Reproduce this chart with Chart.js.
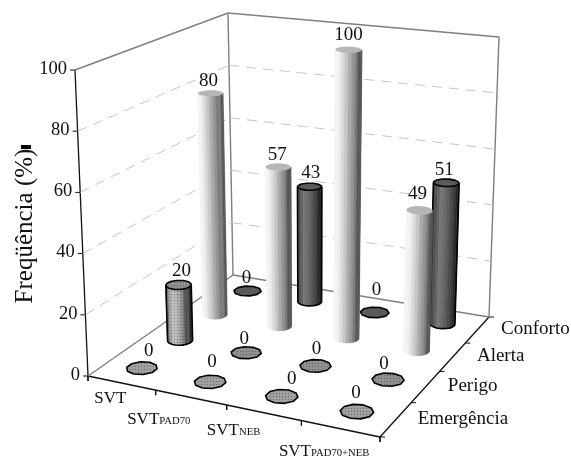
<!DOCTYPE html>
<html>
<head>
<meta charset="utf-8">
<script src="https://cdn.jsdelivr.net/npm/chart.js@4/dist/chart.umd.min.js"></script>
<style>
  html, body { margin: 0; padding: 0; background: #fff; }
  canvas { display: block; }
</style>
</head>
<body>
<canvas id="chart" width="571" height="457"></canvas>
<script>
// ─── Data ───────────────────────────────────────────────────────────────
const categories = ["SVT", "SVT", "SVT", "SVT"];
const categorySubs = ["", "PAD70", "NEB", "PAD70+NEB"];
const rows = ["Emergência", "Perigo", "Alerta", "Conforto"];
const emergencia = [0, 0, 0, 0];
const perigo = [20, 0, 0, 0];
const alerta = [80, 57, 100, 49];
const conforto = [0, 43, 0, 51];
const yTicks = [0, 20, 40, 60, 80, 100];
const yTitle = "Freqüência (%)";

// ─── 3D box as seen in the picture (floor corners, upright edge at each) ─
const floorQuad = [[88, 376], [380, 437], [489, 317], [233, 275]];
const upright = [[-13, -306], [6, -318], [10, -280], [-5, -262]];
const SERIF = "'Liberation Serif', 'Times New Roman', serif";

function makeHomography(q) {
  const [[x0, y0], [x1, y1], [x2, y2], [x3, y3]] = q;
  const dx1 = x1 - x2, dx2 = x3 - x2, sx = x0 - x1 + x2 - x3;
  const dy1 = y1 - y2, dy2 = y3 - y2, sy = y0 - y1 + y2 - y3;
  const den = dx1 * dy2 - dx2 * dy1;
  const g = (sx * dy2 - dx2 * sy) / den;
  const h = (dx1 * sy - sx * dy1) / den;
  return [x1 - x0 + g * x1, x3 - x0 + h * x3, x0, y1 - y0 + g * y1, y3 - y0 + h * y3, y0, g, h];
}
const H = makeHomography(floorQuad);

// u: along categories 0..1, v: front to back 0..1, z: value 0..100
function project(u, v, z) {
  const w = H[6] * u + H[7] * v + 1;
  const fx = (H[0] * u + H[1] * v + H[2]) / w;
  const fy = (H[3] * u + H[4] * v + H[5]) / w;
  const a = (1 - u) * (1 - v), b = u * (1 - v), c = u * v, d = (1 - u) * v;
  const ux = a * upright[0][0] + b * upright[1][0] + c * upright[2][0] + d * upright[3][0];
  const uy = a * upright[0][1] + b * upright[1][1] + c * upright[2][1] + d * upright[3][1];
  return { x: fx + ux * z / 100, y: fy + uy * z / 100 };
}

const cellU = i => (i + 0.5) / categories.length;
const cellV = j => (j + 0.5) / rows.length;

// ─── Series look ────────────────────────────────────────────────────────
const seriesValues = [emergencia, perigo, alerta, conforto];
const seriesStyle = [
  { outline: true, stipple: true, top: "#a0a0a0", bands: ["#aaa"] },
  { outline: true, stipple: true, top: "#909090", bands: ["#777", "#a0a0a0", "#bcbcbc", "#bcbcbc", "#a8a8a8", "#8a8a8a", "#555", "#2c2c2c"] },
  { outline: false, stipple: false, top: "#b6b6b6", bands: ["#f4f4f4", "#ececec", "#dadada", "#c6c6c6", "#ababab", "#959595", "#7c7c7c", "#565656"] },
  { outline: true, stipple: false, top: "#5a5a5a", bands: ["#4e4e4e", "#626262", "#757575", "#6c6c6c", "#5e5e5e", "#4c4c4c", "#3c3c3c", "#262626"] },
];
// where each value label sits relative to the top of its column
const labelOffsets = [
  [[7, -17], [2, -20], [10, -17], [-1, -19]],
  [[3, -11], [-2, -14], [1, -17], [-4, -16]],
  [[-2, -9], [-1, -9], [0, -15], [-2, -13]],
  [[-1, -13], [1, -11], [2, -22], [-2, -10]],
];
// columns below the full scale stop a little short of the wall grid in the original
const TOP_DROP = 3;

function stipplePattern(ctx) {
  const c = document.createElement("canvas");
  c.width = c.height = 3;
  const p = c.getContext("2d");
  p.fillStyle = "rgba(30,30,30,0.42)";
  p.fillRect(0, 0, 1, 1);
  return ctx.createPattern(c, "repeat");
}

// ─── Drawing of columns and texts, on top of the chart's own lines ──────
const columnsPlugin = {
  id: "columns3d",
  afterDatasetsDraw(chart) {
    const { ctx, scales } = chart;
    const px = p => ({ x: scales.x.getPixelForValue(p.x), y: scales.y.getPixelForValue(p.y) });
    const dots = stipplePattern(ctx);
    const R = 0.0425;

    const path = pts => {
      ctx.beginPath();
      pts.forEach((p, k) => (k ? ctx.lineTo(p.x, p.y) : ctx.moveTo(p.x, p.y)));
      ctx.closePath();
    };

    for (let j = rows.length - 1; j >= 0; j--) {
      const st = seriesStyle[j];
      const vals = seriesValues[j];
      vals.forEach((val, i) => {
        const N = val > 0 ? 24 : 10;
        const rad = val > 0 ? R : R * 1.18;
        const drop = val > 0 && val < 100 ? TOP_DROP : 0;
        const ring = [];
        const ringTop = [];
        for (let k = 0; k < N; k++) {
          const t = (k + 0.5) / N * Math.PI * 2;
          const u = cellU(i) + rad * Math.cos(t), v = cellV(j) + rad * Math.sin(t);
          ring.push(px(project(u, v, 0)));
          const tp = px(project(u, v, val));
          ringTop.push({ x: tp.x, y: tp.y + drop });
        }
        ctx.lineJoin = "round";
        if (val > 0) {
          // walk the lower edge of the ring from left to right
          let l = 0, r = 0;
          ring.forEach((p, k) => { if (p.x < ring[l].x) l = k; if (p.x > ring[r].x) r = k; });
          const chainA = [], chainB = [];
          for (let k = l; ; k = (k + 1) % N) { chainA.push(k); if (k === r) break; }
          for (let k = l; ; k = (k + N - 1) % N) { chainB.push(k); if (k === r) break; }
          const avgY = ch => ch.reduce((s, k) => s + ring[k].y, 0) / ch.length;
          const chain = avgY(chainA) > avgY(chainB) ? chainA : chainB;
          const span = ring[r].x - ring[l].x;
          for (let s = 0; s < chain.length - 1; s++) {
            const a = chain[s], b = chain[s + 1];
            const quad = [ring[a], ring[b], ringTop[b], ringTop[a]];
            const frac = ((ring[a].x + ring[b].x) / 2 - ring[l].x) / span;
            const band = st.bands[Math.min(st.bands.length - 1, Math.floor(frac * st.bands.length))];
            path(quad);
            ctx.fillStyle = band;
            ctx.fill();
            ctx.strokeStyle = band;
            ctx.lineWidth = 0.6;
            ctx.stroke();
            if (st.stipple) { ctx.fillStyle = dots; ctx.fill(); }
          }
          if (st.outline) {
            ctx.strokeStyle = "#000";
            ctx.lineWidth = 1.6;
            ctx.beginPath();
            ctx.moveTo(ringTop[l].x, ringTop[l].y);
            chain.forEach(k => ctx.lineTo(ring[k].x, ring[k].y));
            ctx.lineTo(ringTop[r].x, ringTop[r].y);
            ctx.stroke();
          }
        }
        const topPts = val > 0 ? ringTop.filter((p, k) => k % 2 === 0) : ringTop;
        path(topPts);
        ctx.fillStyle = st.top;
        ctx.fill();
        if (st.stipple) { ctx.fillStyle = dots; ctx.fill(); }
        if (st.outline) {
          ctx.strokeStyle = "#000";
          ctx.lineWidth = 1.6;
          ctx.stroke();
        }
      });
    }

    // value labels
    ctx.fillStyle = "#111";
    ctx.textAlign = "center";
    ctx.textBaseline = "middle";
    ctx.font = "19px " + SERIF;
    seriesValues.forEach((vals, j) => {
      const meta = chart.getDatasetMeta(chart.data.datasets.findIndex(d => d.label === rows[j]));
      vals.forEach((val, i) => {
        const el = meta.data[i];
        ctx.fillText(String(val), el.x + labelOffsets[j][i][0], el.y + labelOffsets[j][i][1]);
      });
    });

    // value axis ticks
    ctx.font = "18.5px " + SERIF;
    ctx.textAlign = "right";
    yTicks.forEach(t => {
      const p = px(project(0, 0, t));
      ctx.fillText(String(t), p.x - 8, p.y - 1);
    });

    // rows on the right axis
    const rowOffsets = [[67, 0], [47, -1], [48, -1], [58, -1]];
    ctx.font = "19px " + SERIF;
    ctx.textAlign = "center";
    rows.forEach((name, j) => {
      const p = px(project(1, cellV(j), 0));
      ctx.fillText(name, p.x + rowOffsets[j][0], p.y + rowOffsets[j][1]);
    });

    // categories on the front axis, with small caps subscript
    const catCentres = [[-11, 15], [-32, 22], [-30, 17], [-16, 22]];
    categories.forEach((name, i) => {
      const p = px(project(cellU(i), 0, 0));
      ctx.textAlign = "left";
      ctx.font = "17px " + SERIF;
      const w1 = ctx.measureText(name).width;
      ctx.font = "10.7px " + SERIF;
      const w2 = ctx.measureText(categorySubs[i]).width;
      const x0 = p.x + catCentres[i][0] - (w1 + w2) / 2;
      const y0 = p.y + catCentres[i][1] + 5;
      ctx.textBaseline = "alphabetic";
      ctx.font = "17px " + SERIF;
      ctx.fillText(name, x0, y0);
      ctx.font = "10.7px " + SERIF;
      ctx.fillText(categorySubs[i], x0 + w1, y0);
    });

    // axis title
    ctx.save();
    ctx.translate(25, 226);
    ctx.rotate(-Math.PI / 2);
    ctx.textAlign = "center";
    ctx.textBaseline = "middle";
    ctx.font = "25px " + SERIF;
    ctx.fillText(yTitle, 0, 0);
    ctx.restore();
    ctx.fillStyle = "#000";
    ctx.fillRect(21, 145, 10, 4); // stray mark next to the title in the original
  },
};

// ─── Lines of the box, through the chart's scales ───────────────────────
const lineDs = (a, b, color, extra) => Object.assign({
  type: "line", data: [a, b], borderColor: color, borderWidth: 1.2,
  pointRadius: 0, fill: false, tension: 0, showLine: true, parsing: false,
}, extra);

const GREY = "#7f7f7f", BLACK = "#111";
const datasets = [];
// dashed grid on both walls
yTicks.filter(t => t > 0 && t < 100).forEach(t => {
  const dash = { borderDash: [10, 7], borderWidth: 1 };
  datasets.push(lineDs(project(0, 0, t), project(0, 1, t), "#c4c4c4", dash));
  datasets.push(lineDs(project(0, 1, t), project(1, 1, t), "#c4c4c4", dash));
});
// back edges of the box
[
  [[0, 0, 100], [0, 1, 100]], [[0, 1, 100], [1, 1, 100]],
  [[0, 1, 0], [0, 1, 100]], [[1, 1, 0], [1, 1, 100]],
  [[0, 0, 0], [0, 1, 0]], [[0, 1, 0], [1, 1, 0]],
].forEach(([a, b]) => datasets.push(lineDs(project(...a), project(...b), GREY, { borderWidth: 1.4 })));
// front axes
[
  [[0, 0, 0], [0, 0, 100]], [[0, 0, 0], [1, 0, 0]], [[1, 0, 0], [1, 1, 0]],
].forEach(([a, b]) => datasets.push(lineDs(project(...a), project(...b), BLACK, { borderWidth: 1.3 })));
// tick marks
yTicks.forEach(t => {
  const p = project(0, 0, t);
  datasets.push(lineDs({ x: p.x - 5, y: p.y }, p, BLACK, { borderWidth: 1 }));
});
for (let i = 0; i <= categories.length; i++) {
  const p = project(i / categories.length, 0, 0);
  datasets.push(lineDs(p, { x: p.x, y: p.y + 5 }, BLACK, { borderWidth: 1 }));
}
for (let j = 0; j <= rows.length; j++) {
  const p = project(1, j / rows.length, 0);
  datasets.push(lineDs(p, { x: p.x + 5, y: p.y }, BLACK, { borderWidth: 1 }));
}
// column tops, drawn by the plugin above
rows.forEach((name, j) => {
  datasets.push({
    type: "scatter", label: name, pointRadius: 0, parsing: false,
    data: seriesValues[j].map((val, i) => project(cellU(i), cellV(j), val)),
  });
});

new Chart(document.getElementById("chart"), {
  type: "scatter",
  data: { datasets },
  plugins: [columnsPlugin],
  options: {
    responsive: false,
    animation: false,
    layout: { padding: 0 },
    plugins: { legend: { display: false }, tooltip: { enabled: false } },
    scales: {
      x: { type: "linear", min: 0, max: 571, display: false },
      y: { type: "linear", min: 0, max: 457, reverse: true, display: false },
    },
  },
});
</script>
</body>
</html>
